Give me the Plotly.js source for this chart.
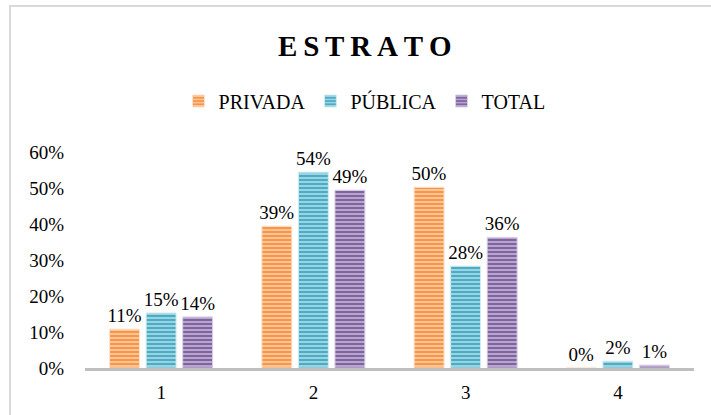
<!DOCTYPE html>
<html>
<head>
<meta charset="utf-8">
<script src="https://cdn.plot.ly/plotly-3.0.1.min.js"></script>
<style>
  html, body { margin: 0; padding: 0; background: #ffffff; }
  #chart { position: absolute; left: 0; top: 0; width: 711px; height: 415px; }
  #frame { position: absolute; left: 9px; top: 5px; width: 720px; height: 430px;
           border: 2px solid #d9d9d9; pointer-events: none; box-sizing: border-box; }
</style>
</head>
<body>
<div id="chart"></div>
<div id="frame"></div>
<script>
const categories = ['1', '2', '3', '4'];
const seriesNames = ['PRIVADA', 'PÚBLICA', 'TOTAL'];
const privada = [0.108, 0.394, 0.502, 0.0];
const publica = [0.153, 0.544, 0.283, 0.019];
const total = [0.142, 0.494, 0.363, 0.008];
const tickVals = [0, 0.1, 0.2, 0.3, 0.4, 0.5, 0.6];
const tickText = ['0%', '10%', '20%', '30%', '40%', '50%', '60%'];

const serif = 'Liberation Serif';
const colors = ['#F79646', '#4BACC6', '#8064A2'];
const lights = ['#FDE3CD', '#D3EDF3', '#DCD3E8'];
const data = [privada, publica, total];

const traces = data.map((vals, i) => ({
  type: 'bar',
  name: seriesNames[i],
  x: categories,
  y: vals,
  texttemplate: '%{y:.0%}',
  textposition: 'outside',
  constraintext: 'none',
  cliponaxis: false,
  textfont: { family: serif, size: 19, color: '#000000' },
  hoverinfo: 'skip',
  marker: {
    color: colors[i],
    line: { color: lights[i], width: 1 },
    pattern: { shape: '-', bgcolor: colors[i], fgcolor: lights[i], size: 4, solidity: 0.3 }
  }
}));

const layout = {
  width: 711,
  height: 415,
  margin: { l: 85, r: 17, t: 152, b: 47 },
  paper_bgcolor: 'rgba(0,0,0,0)',
  plot_bgcolor: 'rgba(0,0,0,0)',
  font: { family: serif, size: 19, color: '#000000' },
  title: {
    text: '<b>E\u2009S\u2009T\u2009R\u2009A\u2009T\u2009O</b>',
    font: { family: serif, size: 29, color: '#000000' },
    x: 0.513, xref: 'container', xanchor: 'center',
    y: 0.889, yref: 'container', yanchor: 'middle'
  },
  showlegend: true,
  legend: {
    orientation: 'h',
    x: 0.459, xanchor: 'center',
    y: 1.236, yanchor: 'middle',
    font: { family: serif, size: 20, color: '#000000' },
    itemwidth: 30,
    traceorder: 'normal'
  },
  barmode: 'group',
  bargap: 0.28,
  bargroupgap: 0.18,
  xaxis: {
    type: 'category',
    showgrid: false,
    zeroline: false,
    showline: true,
    linecolor: '#BFBFBF',
    linewidth: 3,
    ticks: '',
    ticklabelstandoff: 5,
    tickfont: { family: serif, size: 19, color: '#000000' }
  },
  yaxis: {
    range: [0, 0.6],
    tickvals: tickVals,
    ticktext: tickText,
    showgrid: false,
    zeroline: false,
    showline: false,
    ticks: '',
    ticklabelstandoff: 20,
    tickfont: { family: serif, size: 19, color: '#000000' }
  }
};

Plotly.newPlot('chart', traces, layout, { displayModeBar: false, staticPlot: true });
</script>
</body>
</html>
